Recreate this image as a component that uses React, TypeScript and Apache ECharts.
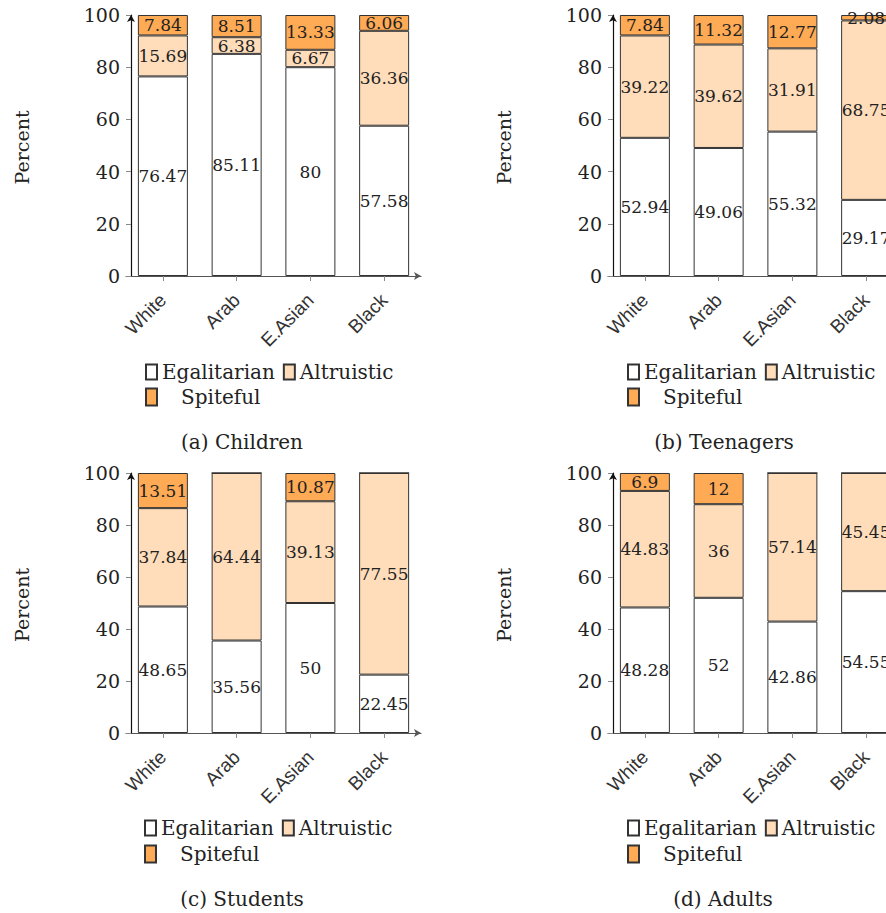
import React, { useEffect, useRef } from "react";
import * as echarts from "echarts";

const categories = ["White", "Arab", "E.Asian", "Black"];
const seriesNames = ["Egalitarian", "Altruistic", "Spiteful"];
const yTicks = [0, 20, 40, 60, 80, 100];

const childrenEgalitarian = [76.47, 85.11, 80, 57.58];
const childrenAltruistic = [15.69, 6.38, 6.67, 36.36];
const childrenSpiteful = [7.84, 8.51, 13.33, 6.06];

const teenagersEgalitarian = [52.94, 49.06, 55.32, 29.17];
const teenagersAltruistic = [39.22, 39.62, 31.91, 68.75];
const teenagersSpiteful = [7.84, 11.32, 12.77, 2.08];

const studentsEgalitarian = [48.65, 35.56, 50, 22.45];
const studentsAltruistic = [37.84, 64.44, 39.13, 77.55];
const studentsSpiteful = [13.51, 0, 10.87, 0];

const adultsEgalitarian = [48.28, 52, 42.86, 54.55];
const adultsAltruistic = [44.83, 36, 57.14, 45.45];
const adultsSpiteful = [6.9, 12, 0, 0];

const captions = ["(a) Children", "(b) Teenagers", "(c) Students", "(d) Adults"];

const panels = [
  [childrenEgalitarian, childrenAltruistic, childrenSpiteful],
  [teenagersEgalitarian, teenagersAltruistic, teenagersSpiteful],
  [studentsEgalitarian, studentsAltruistic, studentsSpiteful],
  [adultsEgalitarian, adultsAltruistic, adultsSpiteful],
];

const COLORS = ["#ffffff", "#ffddbb", "#ffaa55"];
const SERIF = "DejaVu Serif";
const SANS = "Liberation Sans";

// layout
const GRID_LEFT = [126, 608, 126, 608];
const GRID_TOP = [15, 15, 473, 473];
const GRID_H = [261, 261, 260, 260];
const GRID_W = 295;
const LEG_LEFT = [145, 627, 144, 627];
const LEG_ROW1 = [362, 362, 818, 818];
const LEG_ROW2 = [387, 387, 844, 844];
const CAP_X = [242, 724, 242, 723];
const CAP_Y = [442, 442, 899, 899];

export default function App() {
  const ref = useRef<HTMLDivElement>(null);

  useEffect(() => {
    if (!ref.current) return;
    const chart = echarts.init(ref.current, undefined, { renderer: "svg" });

    const grid = panels.map((_, i) => ({
      left: GRID_LEFT[i],
      top: GRID_TOP[i],
      width: GRID_W,
      height: GRID_H[i],
      containLabel: false,
    }));

    const xAxis = panels.map((_, i) => ({
      type: "category",
      gridIndex: i,
      data: categories,
      axisLine: {
        show: true,
        symbol: ["none", "arrow"],
        symbolSize: [6, 7],
        lineStyle: { color: "#555", width: 1.2 },
      },
      axisTick: { show: true, alignWithLabel: true, length: 5, lineStyle: { color: "#888" } },
      axisLabel: {
        rotate: 45,
        fontFamily: SANS,
        fontSize: 19,
        color: "#333",
        margin: 21,
      },
      splitLine: { show: false },
    }));

    const yAxis = panels.map((_, i) => ({
      type: "value",
      gridIndex: i,
      min: 0,
      max: 100,
      interval: 20,
      offset: -5,
      axisLine: {
        show: true,
        symbol: ["none", "arrow"],
        symbolSize: [6, 7],
        lineStyle: { color: "#111", width: 1.2 },
      },
      axisTick: { show: true, length: 5, lineStyle: { color: "#888" } },
      axisLabel: {
        fontFamily: SERIF,
        fontSize: 19,
        color: "#222",
        margin: 11,
        formatter: (v: number) => (yTicks.includes(v) ? String(v) : ""),
      },
      splitLine: { show: false },
    }));

    const series: any[] = [];
    panels.forEach((vals, i) => {
      vals.forEach((data, k) => {
        series.push({
          type: "bar",
          name: seriesNames[k],
          xAxisIndex: i,
          yAxisIndex: i,
          stack: "panel" + i,
          barWidth: 50,
          data,
          itemStyle: { color: COLORS[k], borderColor: "#333", borderWidth: 1 },
          label: {
            show: true,
            position: "inside",
            color: "#222",
            fontFamily: SERIF,
            fontSize: 17,
            formatter: (p: any) => (p.value ? String(p.value) : ""),
          },
          emphasis: { disabled: true },
        });
      });
    });

    const legend: any[] = [];
    panels.forEach((_, i) => {
      legend.push({
        data: ["Egalitarian", "Altruistic"],
        left: LEG_LEFT[i],
        top: LEG_ROW1[i],
        orient: "horizontal",
        icon: "rect",
        itemWidth: 11,
        itemHeight: 15,
        itemGap: 8,
        selectedMode: false,
        padding: 0,
        textStyle: { fontFamily: SERIF, fontSize: 20, color: "#222" },
      });
      legend.push({
        data: ["Spiteful"],
        left: LEG_LEFT[i],
        top: LEG_ROW2[i],
        orient: "horizontal",
        icon: "rect",
        itemWidth: 11,
        itemHeight: 17,
        selectedMode: false,
        padding: 0,
        textStyle: { fontFamily: SERIF, fontSize: 20, color: "#222", padding: [0, 0, 0, 19] },
      });
    });

    const graphic: any[] = [];
    panels.forEach((_, i) => {
      graphic.push({
        type: "text",
        x: GRID_LEFT[i] - 104,
        y: GRID_TOP[i] + GRID_H[i] / 2 + 2,
        rotation: Math.PI / 2,
        style: {
          text: "Percent",
          fontFamily: SERIF,
          fontSize: 19,
          fill: "#222",
          align: "center",
          verticalAlign: "middle",
        },
      });
      graphic.push({
        type: "text",
        x: CAP_X[i],
        y: CAP_Y[i],
        style: {
          text: captions[i],
          fontFamily: SERIF,
          fontSize: 20,
          fill: "#222",
          align: "center",
          verticalAlign: "middle",
        },
      });
    });

    chart.setOption({
      animation: false,
      backgroundColor: "#ffffff",
      grid,
      xAxis,
      yAxis,
      series,
      legend,
      graphic,
    });

    return () => chart.dispose();
  }, []);

  return (
    <div
      ref={ref}
      style={{ position: "fixed", left: 0, top: 0, width: 940, height: 913, background: "#fff" }}
    />
  );
}
